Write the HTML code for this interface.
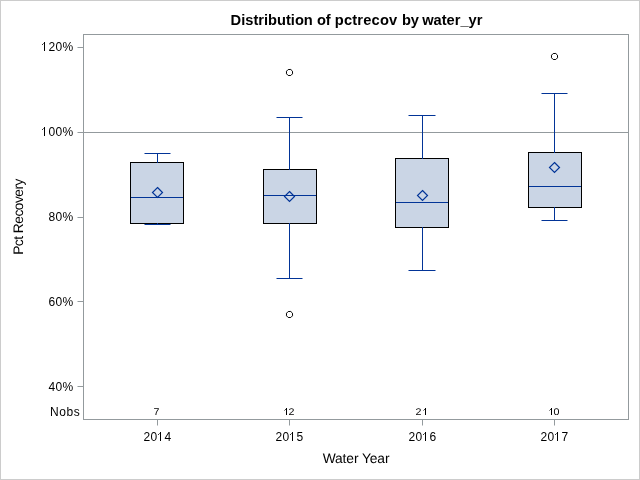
<!DOCTYPE html>
<html><head><meta charset="utf-8"><style>
html,body{margin:0;padding:0;background:#fff;width:640px;height:480px;overflow:hidden}
svg{display:block;will-change:transform}
text{font-family:"Liberation Sans",sans-serif;fill:#000}
.tv{font-size:12px}
.nv{font-size:9.7px;text-rendering:geometricPrecision}
.lb{font-size:13.8px;text-rendering:geometricPrecision}
.ti{font-size:14.67px;font-weight:bold}
</style></head><body>
<svg width="640" height="480" viewBox="0 0 640 480">
<rect width="640" height="480" fill="#fff"/>
<rect x="0.5" y="0.5" width="639" height="479" fill="none" stroke="#cccccc" stroke-width="1"/>
<rect x="84" y="132" width="544" height="1" fill="#939a9d"/>
<rect x="130" y="162" width="54" height="62" fill="#000"/>
<rect x="131" y="163" width="52" height="60" fill="#cad5e5"/>
<rect x="157" y="153" width="1" height="10" fill="#023497"/>
<rect x="157" y="223" width="1" height="2" fill="#023497"/>
<rect x="144.5" y="153" width="26.0" height="1" fill="#023497"/>
<rect x="144.5" y="224" width="26.0" height="1" fill="#023497"/>
<rect x="131" y="197" width="52" height="1" fill="#023497"/>
<path d="M157.5 187.5L162.5 192.5L157.5 197.5L152.5 192.5Z" fill="none" stroke="#023497" stroke-width="1.2"/>
<rect x="263" y="169" width="54" height="55" fill="#000"/>
<rect x="264" y="170" width="52" height="53" fill="#cad5e5"/>
<rect x="289" y="117" width="1" height="53" fill="#023497"/>
<rect x="289" y="223" width="1" height="56" fill="#023497"/>
<rect x="276.5" y="117" width="26.0" height="1" fill="#023497"/>
<rect x="276.5" y="278" width="26.0" height="1" fill="#023497"/>
<rect x="264" y="195" width="52" height="1" fill="#023497"/>
<path d="M289.5 191.5L294.5 196.5L289.5 201.5L284.5 196.5Z" fill="none" stroke="#023497" stroke-width="1.2"/>
<path d="M288.20 69.50L290.80 69.50L292.50 71.20L292.50 73.80L290.80 75.50L288.20 75.50L286.50 73.80L286.50 71.20Z" fill="none" stroke="#000" stroke-width="1.0"/>
<path d="M288.20 311.50L290.80 311.50L292.50 313.20L292.50 315.80L290.80 317.50L288.20 317.50L286.50 315.80L286.50 313.20Z" fill="none" stroke="#000" stroke-width="1.0"/>
<rect x="395" y="158" width="54" height="70" fill="#000"/>
<rect x="396" y="159" width="52" height="68" fill="#cad5e5"/>
<rect x="422" y="115" width="1" height="44" fill="#023497"/>
<rect x="422" y="227" width="1" height="44" fill="#023497"/>
<rect x="408.5" y="115" width="27.0" height="1" fill="#023497"/>
<rect x="408.5" y="270" width="27.0" height="1" fill="#023497"/>
<rect x="396" y="202" width="52" height="1" fill="#023497"/>
<path d="M422.5 190.5L427.5 195.5L422.5 200.5L417.5 195.5Z" fill="none" stroke="#023497" stroke-width="1.2"/>
<rect x="528" y="152" width="54" height="56" fill="#000"/>
<rect x="529" y="153" width="52" height="54" fill="#cad5e5"/>
<rect x="554" y="93" width="1" height="60" fill="#023497"/>
<rect x="554" y="207" width="1" height="14" fill="#023497"/>
<rect x="541.5" y="93" width="26.0" height="1" fill="#023497"/>
<rect x="541.5" y="220" width="26.0" height="1" fill="#023497"/>
<rect x="529" y="186" width="52" height="1" fill="#023497"/>
<path d="M554.5 162.5L559.5 167.5L554.5 172.5L549.5 167.5Z" fill="none" stroke="#023497" stroke-width="1.2"/>
<path d="M553.20 53.50L555.80 53.50L557.50 55.20L557.50 57.80L555.80 59.50L553.20 59.50L551.50 57.80L551.50 55.20Z" fill="none" stroke="#000" stroke-width="1.0"/>
<rect x="83" y="34" width="545" height="385" fill="none" stroke="#939a9d" stroke-width="1" transform="translate(0.5 0.5)"/>
<rect x="77.5" y="47" width="5.5" height="1" fill="#939a9d"/>
<text x="48.4" y="51" class="tv">2</text><text x="55.4" y="51" class="tv">0</text><text x="62.4" y="51" class="tv">%</text>
<rect x="77.5" y="132" width="5.5" height="1" fill="#939a9d"/>
<text x="48.4" y="136" class="tv">0</text><text x="55.4" y="136" class="tv">0</text><text x="62.4" y="136" class="tv">%</text>
<rect x="77.5" y="217" width="5.5" height="1" fill="#939a9d"/>
<text x="48.4" y="221" class="tv">8</text><text x="55.4" y="221" class="tv">0</text><text x="62.4" y="221" class="tv">%</text>
<rect x="77.5" y="301" width="5.5" height="1" fill="#939a9d"/>
<text x="48.4" y="306" class="tv">6</text><text x="55.4" y="306" class="tv">0</text><text x="62.4" y="306" class="tv">%</text>
<rect x="77.5" y="386" width="5.5" height="1" fill="#939a9d"/>
<text x="48.4" y="391" class="tv">4</text><text x="55.4" y="391" class="tv">0</text><text x="62.4" y="391" class="tv">%</text>
<rect x="157" y="420" width="1" height="5.5" fill="#939a9d"/>
<text x="143.4" y="441" class="tv">2</text><text x="150.4" y="441" class="tv">0</text><text x="164.4" y="441" class="tv">4</text>
<text transform="translate(153.4 415.4) scale(1.1 1)" class="nv">7</text>
<rect x="289" y="420" width="1" height="5.5" fill="#939a9d"/>
<text x="275.4" y="441" class="tv">2</text><text x="282.4" y="441" class="tv">0</text><text x="296.4" y="441" class="tv">5</text>
<text transform="translate(288.4 415.4) scale(1.1 1)" class="nv">2</text>
<rect x="422" y="420" width="1" height="5.5" fill="#939a9d"/>
<text x="408.4" y="441" class="tv">2</text><text x="415.4" y="441" class="tv">0</text><text x="429.4" y="441" class="tv">6</text>
<text transform="translate(415.4 415.4) scale(1.1 1)" class="nv">2</text>
<rect x="554" y="420" width="1" height="5.5" fill="#939a9d"/>
<text x="540.4" y="441" class="tv">2</text><text x="547.4" y="441" class="tv">0</text><text x="561.4" y="441" class="tv">7</text>
<text transform="translate(553.4 415.4) scale(1.1 1)" class="nv">0</text>
<rect x="44" y="42" width="1" height="9" fill="#000"/><rect x="43" y="43" width="1" height="1" fill="#000" fill-opacity="0.55"/><rect x="42" y="44" width="1" height="1" fill="#000" fill-opacity="0.8"/>
<rect x="44" y="127" width="1" height="9" fill="#000"/><rect x="43" y="128" width="1" height="1" fill="#000" fill-opacity="0.55"/><rect x="42" y="129" width="1" height="1" fill="#000" fill-opacity="0.8"/>
<rect x="160" y="432" width="1" height="9" fill="#000"/><rect x="159" y="433" width="1" height="1" fill="#000" fill-opacity="0.55"/><rect x="158" y="434" width="1" height="1" fill="#000" fill-opacity="0.8"/>
<rect x="292" y="432" width="1" height="9" fill="#000"/><rect x="291" y="433" width="1" height="1" fill="#000" fill-opacity="0.55"/><rect x="290" y="434" width="1" height="1" fill="#000" fill-opacity="0.8"/>
<rect x="425" y="432" width="1" height="9" fill="#000"/><rect x="424" y="433" width="1" height="1" fill="#000" fill-opacity="0.55"/><rect x="423" y="434" width="1" height="1" fill="#000" fill-opacity="0.8"/>
<rect x="557" y="432" width="1" height="9" fill="#000"/><rect x="556" y="433" width="1" height="1" fill="#000" fill-opacity="0.55"/><rect x="555" y="434" width="1" height="1" fill="#000" fill-opacity="0.8"/>
<rect x="286" y="408" width="1" height="7" fill="#000"/><rect x="285" y="409" width="1" height="1" fill="#000" fill-opacity="0.75"/><rect x="284" y="410" width="1" height="1" fill="#000" fill-opacity="0.45"/>
<rect x="425" y="408" width="1" height="7" fill="#000"/><rect x="424" y="409" width="1" height="1" fill="#000" fill-opacity="0.75"/><rect x="423" y="410" width="1" height="1" fill="#000" fill-opacity="0.45"/>
<rect x="551" y="408" width="1" height="7" fill="#000"/><rect x="550" y="409" width="1" height="1" fill="#000" fill-opacity="0.75"/><rect x="549" y="410" width="1" height="1" fill="#000" fill-opacity="0.45"/>
<text x="50" y="416" class="tv" letter-spacing="0.6">Nobs</text>
<text x="230.58" y="25" class="ti">Distribution of <tspan letter-spacing="0.19">pctrecov</tspan> <tspan dx="0.4">by</tspan><tspan dx="-0.9"> water_yr</tspan></text>
<text x="356" y="463" text-anchor="middle" class="lb" letter-spacing="-0.1">Water Year</text>
<text transform="translate(23 217) rotate(-90)" text-anchor="middle" class="lb" letter-spacing="-0.53">Pct Recovery</text>
</svg>
</body></html>
